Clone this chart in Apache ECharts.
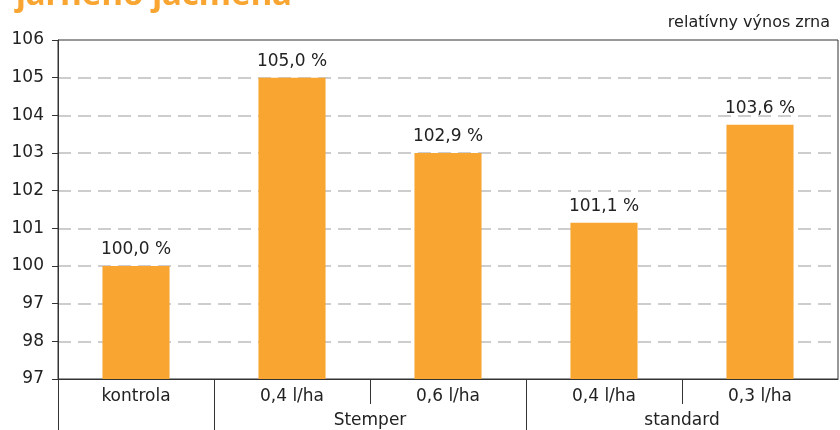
<!DOCTYPE html>
<html>
<head>
<meta charset="utf-8">
<script src="https://cdn.jsdelivr.net/npm/echarts@6/dist/echarts.min.js"></script>
<style>
  html, body { margin: 0; padding: 0; background: #fff; }
  #chart { width: 840px; height: 430px; }
</style>
</head>
<body>
<div id="chart"></div>
<script>
// data
const categories = ['kontrola', '0,4 l/ha', '0,6 l/ha', '0,4 l/ha', '0,3 l/ha']
const barValues = [100, 105, 103, 101.15, 103.75]
const barLabels = ['100,0 %', '105,0 %', '102,9 %', '101,1 %', '103,6 %']
const yTickLabels = ['97', '98', '97', '100', '101', '102', '103', '104', '105', '106']
const groupNames = ['Stemper', 'standard']
const groupCenters = [2, 4]
const groupBounds = [0, 1, 3]
const innerBounds = [2, 4]

const FONT = 'DejaVu Sans'
const TITLE_FONT = 'Noto Sans'
const ORANGE = '#F8A532'
const TEXT = '#222'

const chart = echarts.init(document.getElementById('chart'), null, { renderer: 'canvas' })

const option = {
  animation: false,
  textStyle: { fontFamily: FONT },
  title: [
    {
      text: 'jarného jačmeňa',
      left: 11,
      top: -26,
      textStyle: { color: ORANGE, fontSize: 33, fontWeight: 'bold', fontFamily: TITLE_FONT }
    },
    {
      text: 'relatívny výnos zrna',
      right: 5,
      top: 10,
      textStyle: { color: TEXT, fontSize: 16, fontWeight: 'normal', fontFamily: FONT }
    }
  ],
  grid: {
    left: 58,
    right: 2,
    top: 40,
    bottom: 51,
    show: true,
    borderColor: '#333',
    borderWidth: 1
  },
  xAxis: [
    {
      type: 'category',
      data: categories,
      axisLine: { lineStyle: { color: '#333', width: 1 } },
      axisTick: { show: false },
      axisLabel: { color: TEXT, fontSize: 17, margin: 9, fontFamily: FONT }
    },
    {
      // group row below the category labels
      type: 'value',
      position: 'bottom',
      min: 0,
      max: 5,
      axisLine: { show: false },
      splitLine: { show: false },
      axisTick: {
        show: true,
        length: 51,
        customValues: groupBounds,
        lineStyle: { color: '#333' }
      },
      axisLabel: {
        show: true,
        customValues: groupCenters,
        margin: 33,
        color: TEXT,
        fontSize: 17,
        fontFamily: FONT,
        formatter: v => groupNames[groupCenters.indexOf(v)]
      }
    },
    {
      // short separators inside the groups
      type: 'value',
      position: 'bottom',
      min: 0,
      max: 5,
      axisLine: { show: false },
      splitLine: { show: false },
      axisLabel: { show: false },
      axisTick: {
        show: true,
        length: 25,
        customValues: innerBounds,
        lineStyle: { color: '#333' }
      }
    }
  ],
  yAxis: {
    type: 'value',
    min: 97,
    max: 106,
    interval: 1,
    axisLine: { show: true, lineStyle: { color: '#333' } },
    axisTick: { show: true, length: 6, lineStyle: { color: '#333' } },
    axisLabel: {
      color: TEXT,
      fontSize: 17,
      margin: 14,
      fontFamily: FONT,
      formatter: v => yTickLabels[Math.round(v - 97)]
    },
    splitLine: {
      show: true,
      showMinLine: false,
      showMaxLine: false,
      lineStyle: { color: '#bdbdbd', type: [13, 7], width: 1.5 }
    }
  },
  series: [
    {
      type: 'bar',
      xAxisIndex: 0,
      data: barValues,
      barWidth: '43%',
      itemStyle: { color: ORANGE },
      label: {
        show: true,
        position: 'top',
        distance: 8,
        color: TEXT,
        fontSize: 17,
        fontFamily: FONT,
        formatter: p => barLabels[p.dataIndex]
      }
    }
  ]
}

chart.setOption(option)
</script>
</body>
</html>
